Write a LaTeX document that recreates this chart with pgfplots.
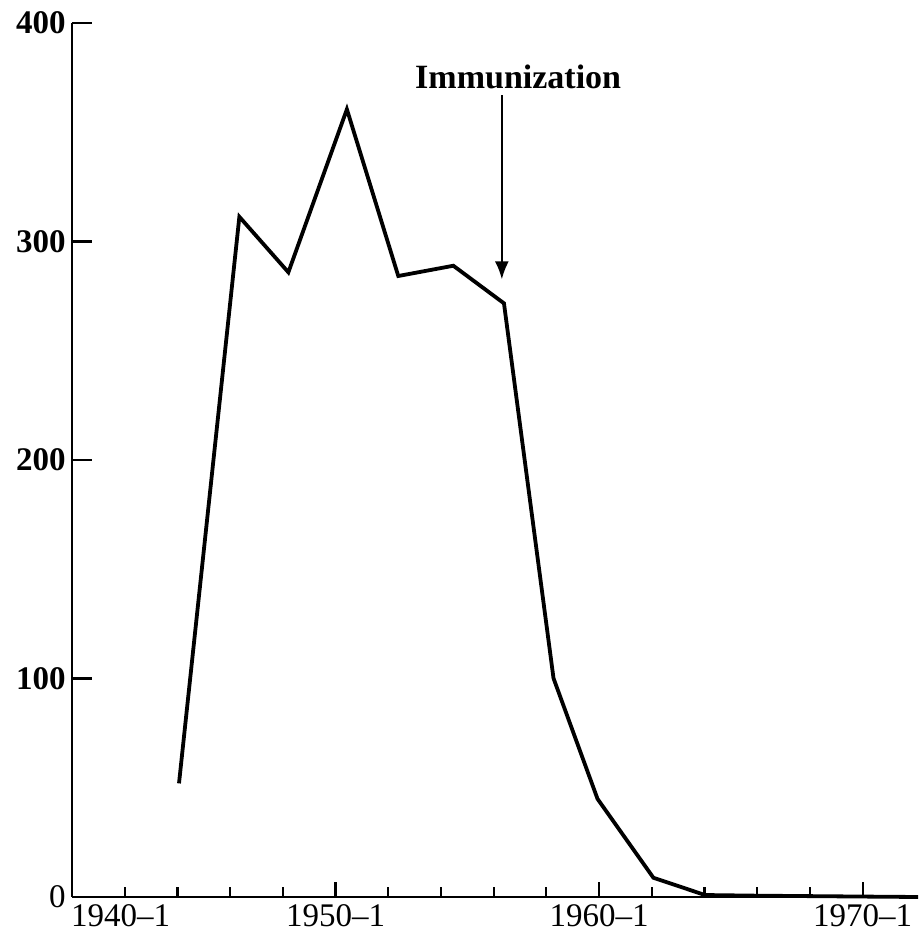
\documentclass[border=0pt]{standalone}
\usepackage{fontspec}
\setmainfont{Liberation Serif}
\usepackage{pgfplots}
\pgfplotsset{compat=1.18}
\usetikzlibrary{arrows.meta}

\pgfplotstableread{
year   cases
1944.06  52.0
1946.35 311.3
1948.21 285.9
1950.43 360.5
1952.38 284.2
1954.47 288.9
1956.39 271.7
1958.27 100.1
1959.94  44.9
1962.06   8.8
1964.02   0.9
1966.0    0.6
1968.0    0.4
1970.0    0.2
1972.1    0.0
}\cases

\begin{document}
\begin{tikzpicture}
\begin{axis}[
  name=ax,
  scale only axis,
  width=423pt, height=437pt,
  xmin=1940, xmax=1972.1,
  ymin=0, ymax=400,
  axis x line=bottom, axis y line=left,
  axis line style={-, line width=1.3pt},
  tick align=inside,
  tick style={line width=1.1pt, black},
  major tick length=7.5pt,
  minor tick length=5pt,
  ytick style={/pgfplots/major tick length=10pt},
  xtick={1950,1960,1970},
  xticklabels={1950--1,1960--1,1970--1},
  minor xtick={1942,1944,...,1968},
  extra x ticks={1940},
  extra x tick labels={1940--1},
  extra x tick style={major tick length=0pt,
    xticklabel style={anchor=north west, xshift=-4pt}},
  ytick={0,100,200,300,400},
  yticklabels={0,\textbf{100},\textbf{200},\textbf{300},\textbf{400}},
  xticklabel style={font=\fontsize{16.5}{18}\selectfont},
  yticklabel style={font=\fontsize{16.5}{18}\selectfont, inner xsep=3pt},
  clip=false,
]
  \addplot[black, line width=1.9pt, line join=miter, mark=none] table[x=year, y=cases] {\cases};
  \draw[black, line width=0.9pt, -{Latex[length=9pt, width=7pt]}]
    (axis cs:1956.31,367) -- (axis cs:1956.31,282.7);
  \node[anchor=base, inner sep=0pt, font=\fontsize{17}{19}\selectfont\bfseries]
    at (axis cs:1956.93,369.8) {Immunization};
\end{axis}
\pgfresetboundingbox
\path[use as bounding box] ([shift={(-36pt,-19pt)}]ax.south west)
  rectangle ([shift={(0pt,11.5pt)}]ax.north east);
\end{tikzpicture}
\end{document}
